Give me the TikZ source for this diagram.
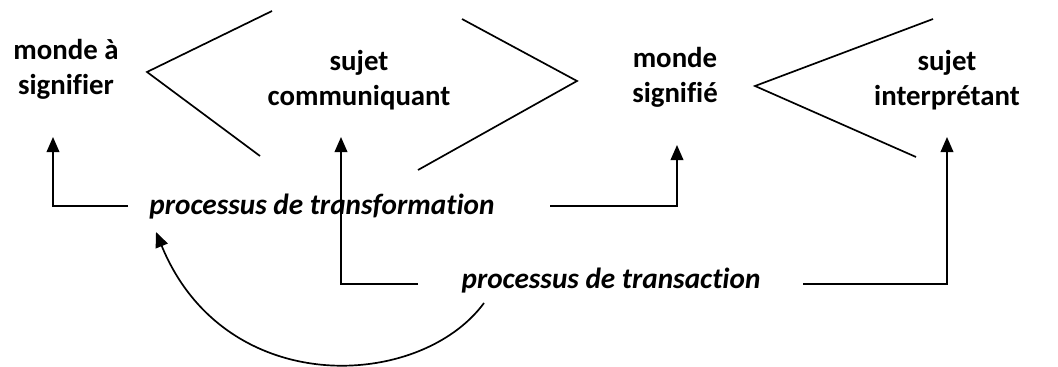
\documentclass[tikz,border=0pt]{standalone}
\usepackage{fontspec}
\setmainfont{Carlito}[Ligatures={NoCommon}]
\usetikzlibrary{arrows.meta}

\tikzset{
  pole/.style={font=\fontsize{20.5}{25}\selectfont\bfseries, align=center, inner sep=0pt},
  proc/.style={font=\fontsize{20.8}{25}\selectfont\bfseries\itshape, inner sep=0pt},
  link/.style={line width=1.2pt},
  up/.style={link, -{Triangle[length=3.8mm, width=3.2mm]}}
}

\begin{document}
\begin{tikzpicture}[x=0.025cm, y=-0.025cm]
			%%%%% START %%%%%
			\useasboundingbox (0,0) rectangle (1058,367);

			% the four poles
			\node[pole] (mas) at (66, 69) {monde à\\signifier};
			\node[pole] (sc) at (359, 80) {sujet\\communiquant};
			\node[pole] (ms) at (675, 77) {monde\\signifié};
			\node[pole] (si) at (947, 80) {sujet\\interprétant};

			% the two processes
			\node[proc] (tf) at (322, 207) {processus de transformation};
			\node[proc] (ta) at (611, 281) {processus de transaction};

			% chevrons
			\draw[link] (272, 11) -- (147, 72) -- (260, 156);
			\draw[link] (462, 19) -- (577, 81) -- (418, 170);
			\draw[link] (933, 19) -- (755, 86) -- (916, 157);

			% corners and ends
			\coordinate (tfL) at (128, 206);
			\coordinate (tfR) at (550, 206);
			\coordinate (taL) at (418, 284);
			\coordinate (taR) at (803, 284);
			\coordinate (masT) at (53, 137);
			\coordinate (scT) at (341, 137);
			\coordinate (msT) at (677, 145);
			\coordinate (siT) at (947, 137);
			\coordinate (loopS) at (484, 303);
			\coordinate (loopE) at (156, 232);

			\draw[up] (tfL) -| (masT);
			\draw[up] (tfR) -| (msT);
			\draw[up] (taL) -| (scT);
			\draw[up] (taR) -| (siT);

			\draw[up] (loopS) .. controls (420, 390) and (225, 400) .. (loopE);
			%%%%% END %%%%%
\end{tikzpicture}
\end{document}
